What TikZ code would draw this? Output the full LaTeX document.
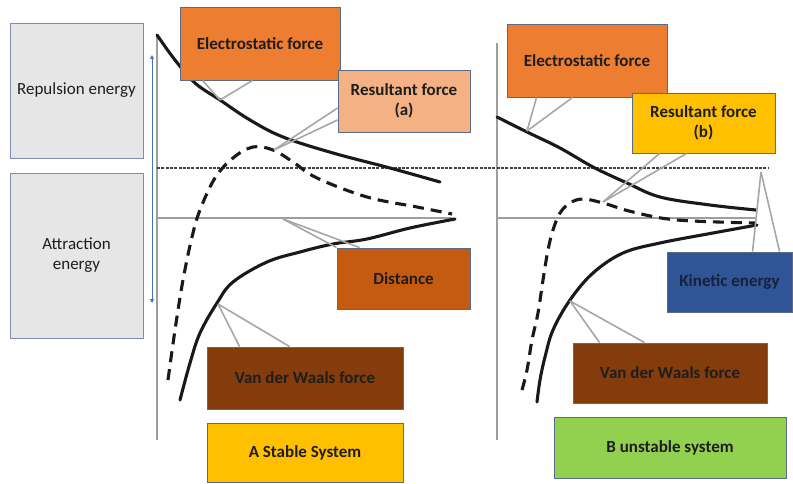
\documentclass[tikz,border=0pt]{standalone}
\usepackage{fontspec}
\setmainfont{Carlito}
\usetikzlibrary{arrows.meta}
\definecolor{sidefill}{HTML}{E7E6E6}
\definecolor{sideedge}{HTML}{7C8DB0}
\definecolor{boxedge}{HTML}{5B6B86}
\definecolor{esfill}{HTML}{ED7D31}
\definecolor{resafill}{HTML}{F4B183}
\definecolor{distfill}{HTML}{C55A11}
\definecolor{vdwfill}{HTML}{843C0C}
\definecolor{goldfill}{HTML}{FFC000}
\definecolor{kinfill}{HTML}{2F5597}
\definecolor{greenfill}{HTML}{92D050}
\definecolor{leadgray}{HTML}{A6A6A6}
\definecolor{axisgray}{HTML}{9E9E9E}
\definecolor{arrowblue}{HTML}{4472C4}
\definecolor{txtdark}{HTML}{1E1E1E}
\definecolor{kintext}{HTML}{17223A}
\tikzset{
  sidebox/.style={draw=sideedge, fill=sidefill, line width=0.9pt, align=center,
    font=\fontsize{17}{20}\selectfont, text=txtdark, inner sep=0pt},
  labelbox/.style={draw=boxedge, line width=0.9pt, align=center,
    font=\fontsize{17}{20}\selectfont\bfseries, text=txtdark, inner sep=0pt},
  leader/.style={draw=leadgray, line width=1.6pt},
  curve/.style={draw=black!90, line width=3.1pt, line cap=round},
  dcurve/.style={draw=black!90, line width=3.1pt, dash pattern=on 11pt off 7pt},
  axisline/.style={draw=axisgray, line width=2.8pt},
  dotline/.style={draw=black!75, line width=2pt, dash pattern=on 3pt off 1.3pt},
}
\begin{document}
\begin{tikzpicture}[x=1pt,y=-1pt]
\useasboundingbox (0,0) rectangle (793,484);
% axes
\draw[axisline] (157,35) -- (157,440);
\draw[axisline] (157,218) -- (452,218);
\draw[axisline] (497,43) -- (497,440);
\draw[axisline] (497,218) -- (755,218);
\draw[dotline] (157,168) -- (768,168);
% blue arrow
\draw[arrowblue, line width=0.8pt, {Triangle[width=4pt,length=4pt]}-{Triangle[width=4pt,length=4pt]}] (152,55) -- (152,303);
% points on curves
\coordinate (pEA) at (220,100);
\coordinate (pRA) at (274,150);
\coordinate (pDA) at (283,219);
\coordinate (pVA) at (218,304);
\coordinate (pEB) at (527,131);
\coordinate (pRB) at (603,202);
\coordinate (pK) at (761,172);
\coordinate (pVB) at (570,301);
% curves panel A
\draw[curve] plot[smooth, tension=0.6] coordinates {(157,35) (175,60) (195,83) (220,100) (250,120) (283,137) (333,153) (390,168) (440,182)};
\draw[dcurve] plot[smooth, tension=0.6] coordinates {(168,380) (175,330) (183,280) (192,237) (200,210) (215,178) (233,158) (253,147) (273,150) (293,162) (317,178) (367,197) (417,207) (452,214)};
\draw[curve] plot[smooth, tension=0.6] coordinates {(455,219) (410,228) (367,239) (333,244) (300,252) (267,262) (233,282) (217,303) (200,333) (190,363) (180,400)};
% curves panel B
\draw[curve] plot[smooth, tension=0.6] coordinates {(497,117) (527,132) (560,148) (593,167) (627,183) (660,197) (710,205) (756,210)};
\draw[dcurve] plot[smooth, tension=0.6] coordinates {(522,390) (527,370) (532,340) (538,313) (543,280) (548,250) (553,230) (560,213) (570,203) (583,199) (603,203) (633,212) (677,220) (755,223)};
\draw[curve] plot[smooth, tension=0.6] coordinates {(757,225) (713,233) (660,243) (623,253) (593,273) (570,300) (553,330) (545,357) (540,380) (537,402)};
% side boxes
\node[sidebox, minimum width=133pt, minimum height=135pt] (rep) at (76.5,90.5) {Repulsion energy};
\node[sidebox, minimum width=133pt, minimum height=165pt] (att) at (76.5,255.5) {Attraction\\energy};
% label boxes
\node[labelbox, fill=esfill, minimum width=160pt, minimum height=73pt] (esA) at (260,43.5) {Electrostatic force};
\node[labelbox, fill=resafill, minimum width=132pt, minimum height=62pt] (resA) at (404,101) {Resultant force\\(a)};
\node[labelbox, fill=distfill, minimum width=133pt, minimum height=61pt] (dist) at (403.5,278.5) {Distance};
\node[labelbox, fill=vdwfill, minimum width=196pt, minimum height=62pt] (vdwA) at (305,378) {Van der Waals force};
\node[labelbox, fill=goldfill, minimum width=196pt, minimum height=59pt] (stabA) at (305,452.5) {A Stable System};
\node[labelbox, fill=esfill, minimum width=160pt, minimum height=73pt] (esB) at (587,60.5) {Electrostatic force};
\node[labelbox, fill=goldfill, minimum width=143pt, minimum height=60pt] (resB) at (703.5,123) {Resultant force\\(b)};
\node[labelbox, fill=kinfill, text=kintext, minimum width=125pt, minimum height=60pt] (kin) at (729.5,282) {Kinetic energy};
\node[labelbox, fill=vdwfill, minimum width=194pt, minimum height=60pt] (vdwB) at (670,373) {Van der Waals force};
\node[labelbox, fill=greenfill, minimum width=232pt, minimum height=61pt] (unsB) at (670,447.5) {B unstable system};
% leaders
\draw[leader] ([xshift=23pt]esA.south west) -- (pEA);
\draw[leader] ([xshift=73pt]esA.south west) -- (pEA);
\draw[leader] ([yshift=-7pt]resA.west) -- (pRA);
\draw[leader] ([yshift=-19pt]resA.west) -- (pRA);
\draw[leader] (dist.north west) -- (pDA);
\draw[leader] ([xshift=23pt]dist.north west) -- (pDA);
\draw[leader] ([xshift=33pt]vdwA.north west) -- (pVA);
\draw[leader] ([xshift=83pt]vdwA.north west) -- (pVA);
\draw[leader] ([xshift=30pt]esB.south west) -- (pEB);
\draw[leader] ([xshift=66pt]esB.south west) -- (pEB);
\draw[leader] ([xshift=28pt]resB.south west) -- (pRB);
\draw[leader] ([xshift=55pt]resB.south west) -- (pRB);
\draw[leader] ([xshift=86pt]kin.north west) -- (pK);
\draw[leader] ([xshift=113pt]kin.north west) -- (pK);
\draw[leader] ([xshift=27pt]vdwB.north west) -- (pVB);
\draw[leader] ([xshift=72pt]vdwB.north west) -- (pVB);
\end{tikzpicture}
\end{document}
